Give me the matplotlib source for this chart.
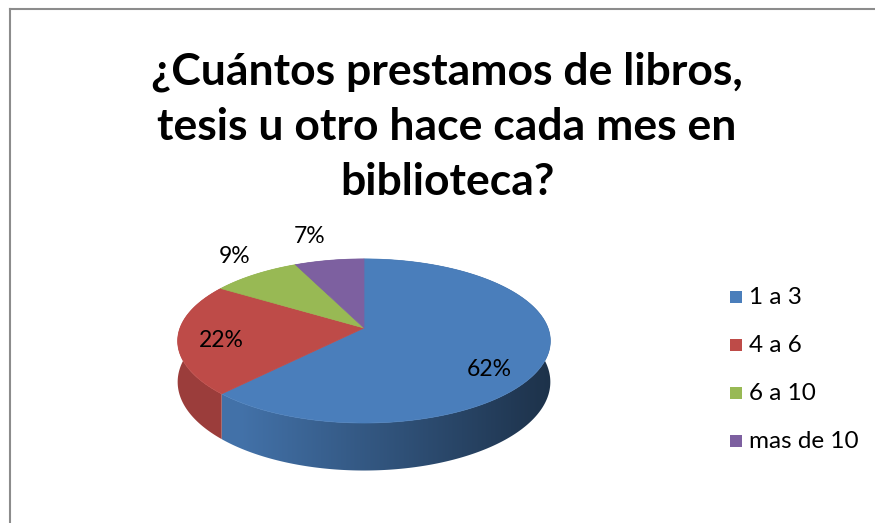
import numpy as np
import matplotlib
matplotlib.use('Agg')
import matplotlib.pyplot as plt
from matplotlib.patches import Polygon, Rectangle

categories = ['1 a 3', '4 a 6', '6 a 10', 'mas de 10']
values = [62, 22, 9, 7]
colors = ['#4a7ebb', '#be4b48', '#98b954', '#7d60a0']
title = '¿Cuántos prestamos de libros,\ntesis u otro hace cada mes en\nbiblioteca?'

# label tweaks (radius on the pie, extra pixel offset)
label_r = [0.7, 0.77, 1.2, 1.25]
label_off = [(0, 20), (0, 5), (-2, -8), (-12, -10)]

# pie geometry in pixels
cx, cy = 364, 328
a, b, k = 184, 80, 0.158
depth = 40

plt.rcParams['font.family'] = ['Lato', 'DejaVu Sans']


def proj(r, th, z=0.0):
    u = r * np.cos(th)
    v = r * np.sin(th)
    d = 1 + k * v
    return cx + a * u / d, cy - b * v / d + z / d


fig = plt.figure(figsize=(8.75, 5.23), dpi=100)
ax = fig.add_axes([0, 0, 1, 1])
ax.set_xlim(0, 875)
ax.set_ylim(523, 0)
ax.axis('off')

# chart frame (only left and top edges visible)
ax.plot([9.5, 9.5], [523, 8.5], color='#8c8c8c', lw=1.5)
ax.plot([9.5, 875], [8.5, 8.5], color='#8c8c8c', lw=1.5)

total = float(sum(values))
starts = []
ang = np.pi / 2
for v in values:
    starts.append((ang, ang - 2 * np.pi * v / total))
    ang = ang - 2 * np.pi * v / total

# side walls: horizontal gradient clipped to each slice's band
x0, x1 = cx - a - 10, cx + a + 10
y0, y1 = cy - b - 10, cy + b / (1 - k) + depth / (1 - k) + 10
xs = np.linspace(x0, x1, 400)
u = np.clip((xs - cx) / a, -1, 1)
for i, (t1, t2) in enumerate(starts):
    f = np.minimum(0.9, 0.7 - 0.3 * u)
    if i == 1:
        f = np.minimum(f, 0.82)
    rgb = np.array(matplotlib.colors.to_rgb(colors[i]))
    img = np.clip(f[None, :, None] * rgb[None, None, :], 0, 1)
    img = np.repeat(img, 2, axis=0)
    ts = np.linspace(t1, t2, 300)
    top = [proj(1, t) for t in ts]
    bot = [proj(1, t, depth) for t in ts[::-1]]
    band = Polygon(top + bot, closed=True, facecolor='none', edgecolor='none')
    ax.add_patch(band)
    im = ax.imshow(img, extent=(x0, x1, y1, y0), aspect='auto', zorder=1,
                   interpolation='bilinear')
    im.set_clip_path(band)

# top faces
for i, (t1, t2) in enumerate(starts):
    ts = np.linspace(t1, t2, 200)
    pts = [(cx, cy)] + [proj(1, t) for t in ts]
    ax.add_patch(Polygon(pts, closed=True, facecolor=colors[i], edgecolor=colors[i],
                         lw=0.5, zorder=2))

# data labels
for i, (t1, t2) in enumerate(starts):
    tm = (t1 + t2) / 2
    x, y = proj(label_r[i], tm)
    pct = '%d%%' % round(100 * values[i] / total)
    ax.text(x + label_off[i][0], y + label_off[i][1], pct, fontsize=16.5,
            ha='center', va='center', color='black', zorder=3)

# title
ax.text(447, 127, title, fontsize=32, fontweight='bold', ha='center', va='center',
        linespacing=1.45, color='black')

# legend
for i, cat in enumerate(categories):
    yy = 297 + 48 * i
    ax.add_patch(Rectangle((730, yy - 6), 12, 12, facecolor=colors[i], edgecolor='none'))
    ax.text(749, yy, cat, fontsize=17.5, ha='left', va='center', color='black')

ax.set_xlim(0, 875)
ax.set_ylim(523, 0)
fig.savefig('out.png', dpi=100)
